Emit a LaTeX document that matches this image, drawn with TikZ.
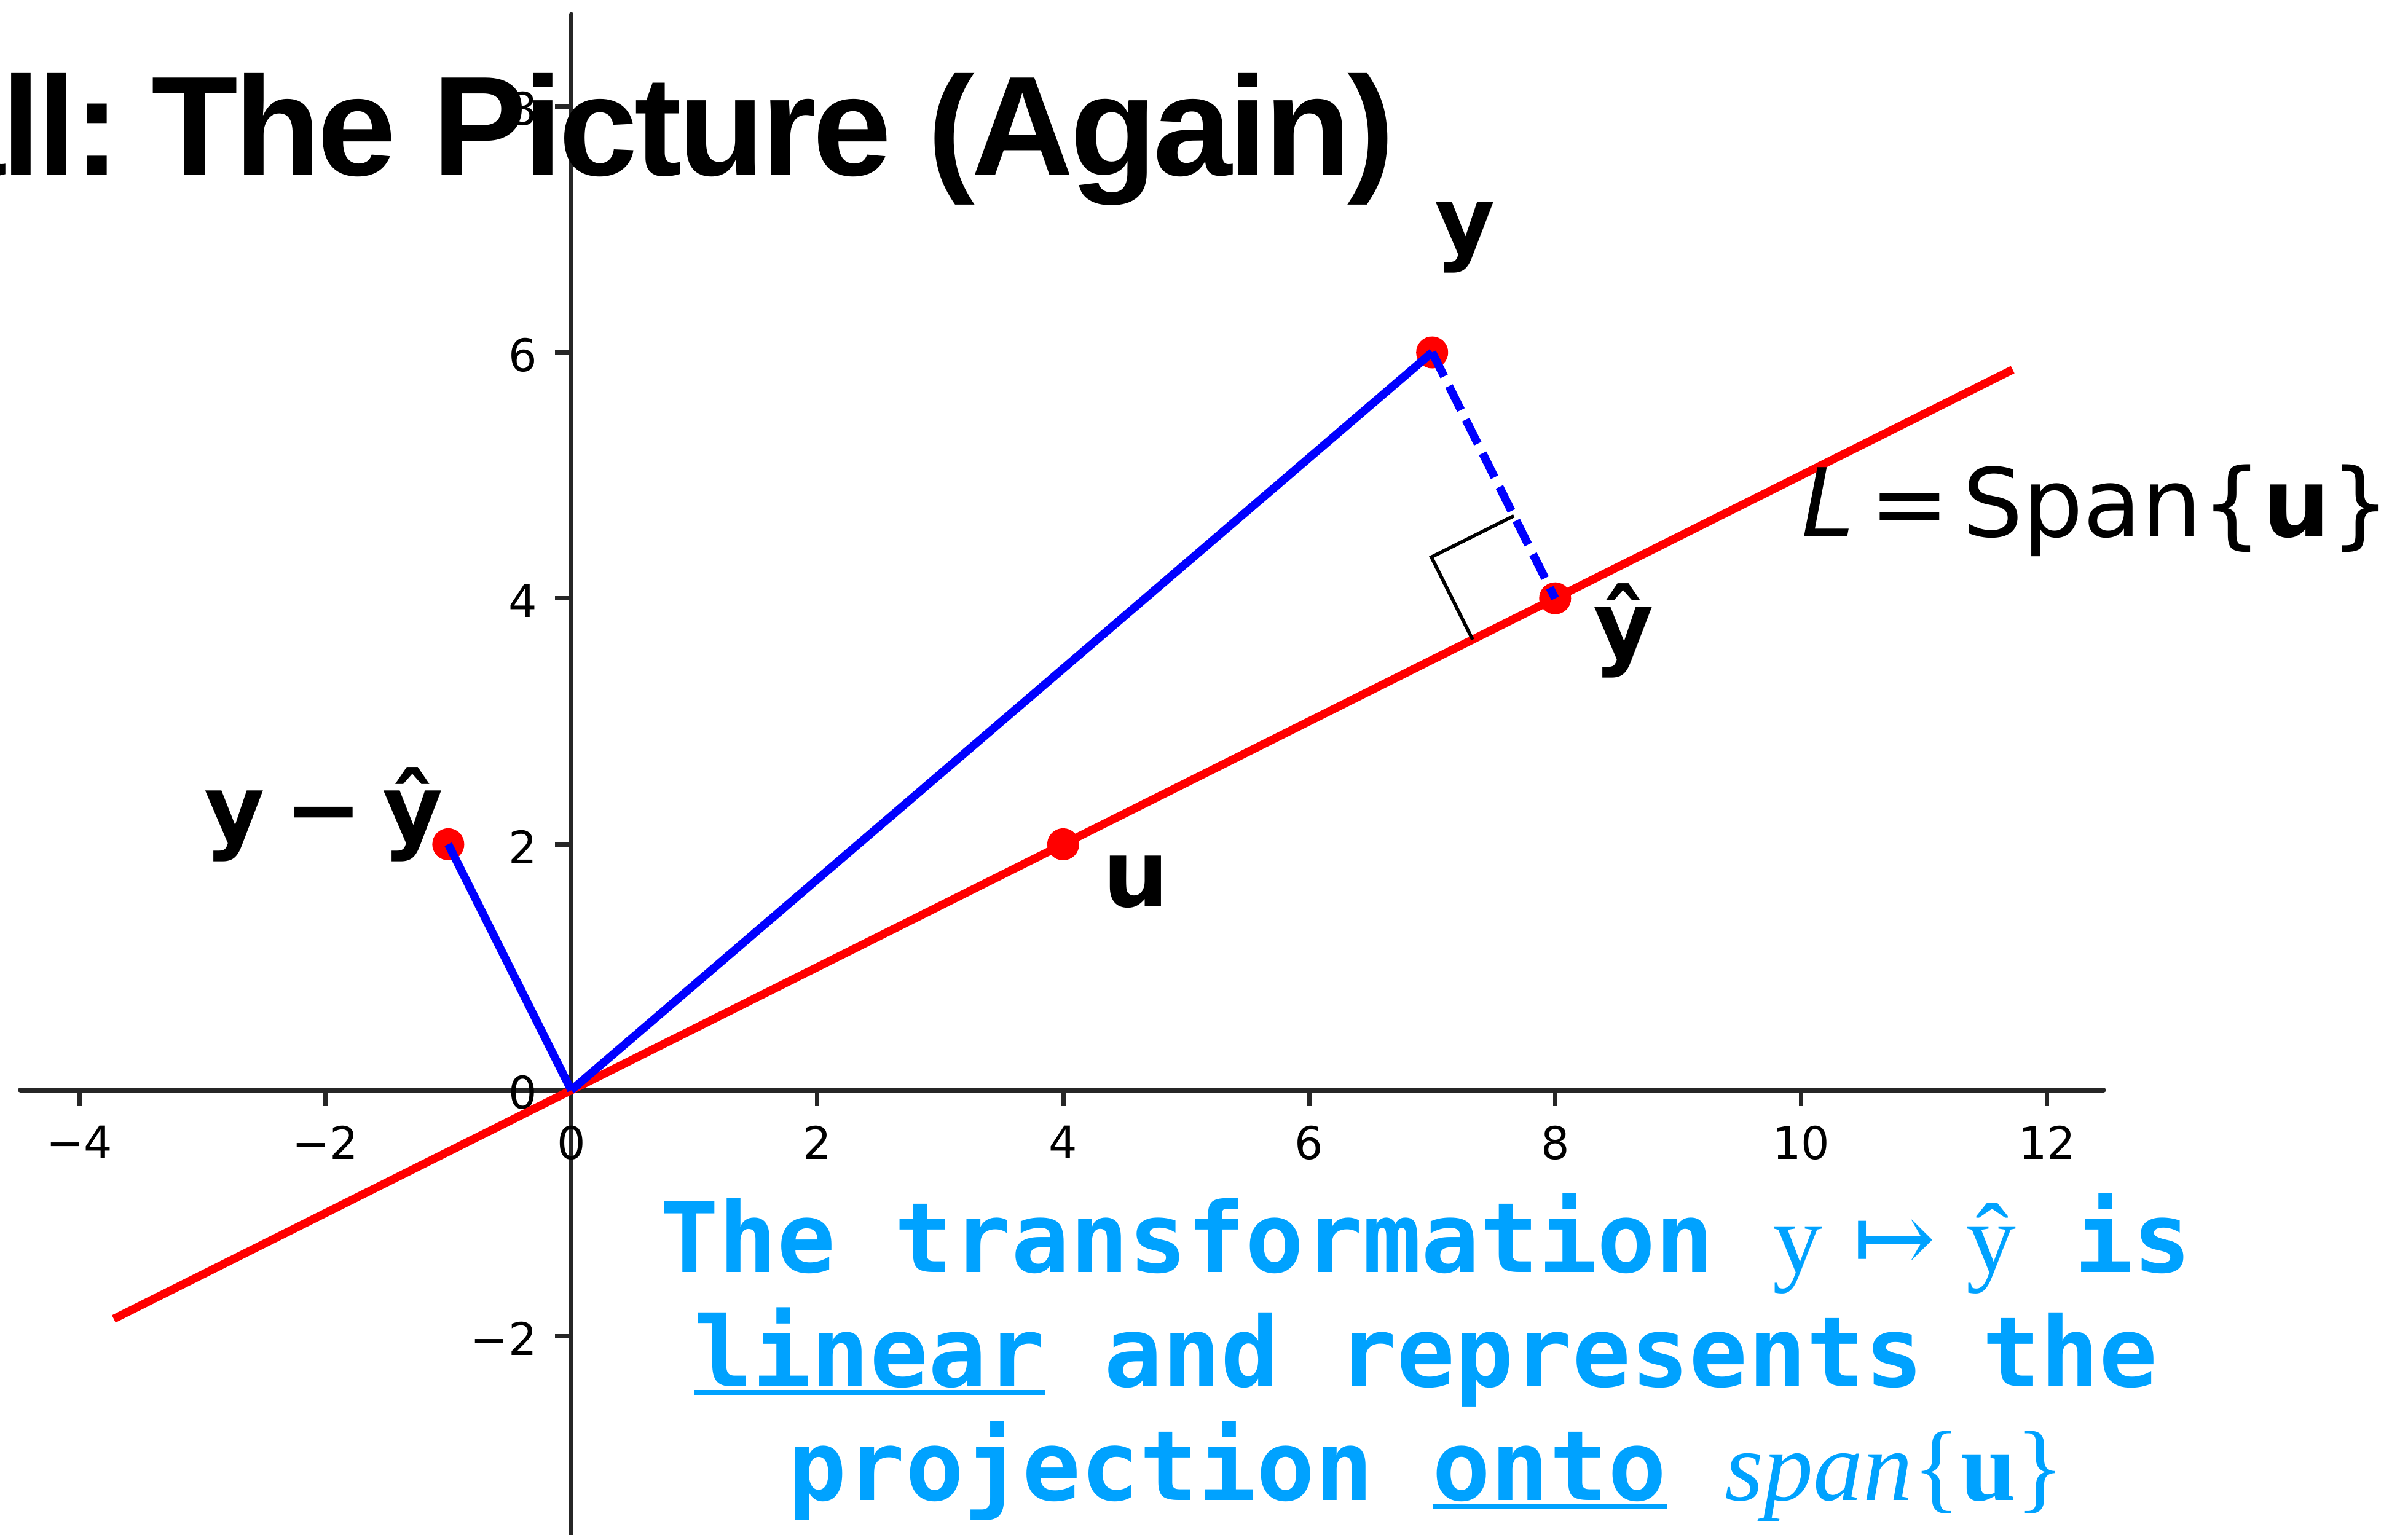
\documentclass[tikz,border=0pt]{standalone}
\usepackage{fontspec}
\setmainfont{DejaVu Sans}
\newfontfamily\titlefont{Liberation Sans}[LetterSpace=-2.5]
\newfontfamily\monofont{DejaVu Sans Mono}
\newfontfamily\lserif{Liberation Serif}
\newfontfamily\dserif{DejaVu Serif}
\definecolor{kblue}{HTML}{00A2FF}
\newcommand\ulin[1]{\setbox0=\hbox{#1}\rlap{\rule[-2pt]{\wd0}{1.1pt}}\box0\relax}
\begin{document}
\begin{tikzpicture}[x=1cm,y=1cm,
  axisline/.style={line width=1.05pt, black!85, line cap=round},
  tickline/.style={line width=1.05pt, black!85},
  redline/.style={line width=1.9pt, red},
  blueline/.style={line width=1.9pt, blue},
  dashline/.style={line width=1.9pt, blue, dash pattern=on 6.2pt off 2.5pt},
  rightang/.style={line width=0.8pt, black},
  dotmark/.style={circle, fill=red, inner sep=0pt, minimum size=0.26cm},
  ticklab/.style={font=\fontsize{10.4}{12}\selectfont, inner sep=0pt},
  ptlab/.style={font=\fontsize{21.5}{26}\selectfont\bfseries, inner sep=0pt},
  captext/.style={font=\monofont\bfseries\fontsize{22.5}{26.4}\selectfont, text=kblue, inner sep=0pt, anchor=base}]
\useasboundingbox (-4.645,-3.613) rectangle (14.935,8.866);

% axes
\coordinate (xl) at (-4.48,0);
\coordinate (xr) at (12.46,0);
\coordinate (yb) at (0,-3.75);
\coordinate (yt) at (0,8.75);
\draw[axisline] (xl) -- (xr);
\draw[axisline] (yb) -- (yt);
\foreach \x/\t in {-4/−4,-2/−2,0/0,2/2,4/4,6/6,8/8,10/10,12/12}{
  \draw[tickline] (\x,0) -- (\x,-0.13);
  \node[ticklab, anchor=north] (xt\x) at (\x,-0.284) {\t};
}
\foreach \y/\t in {-2/−2,0/0,2/2,4/4,6/6,8/8}{
  \draw[tickline] (0,\y) -- (-0.13,\y);
  \node[ticklab, anchor=east] (yt\y) at (-0.272,\y-0.02) {\t};
}

% title
\node[anchor=base west, inner sep=0pt, font=\titlefont\bfseries\fontsize{32.8}{36}\selectfont] (title) at (-3.42,7.441) {\llap{all:\hspace{0.22em}}The Picture (Again)};

% line L
\coordinate (Ls) at (-3.72,-1.86);
\coordinate (Le) at (11.72,5.86);
\draw[redline] (Ls) -- (Le);

% points
\coordinate (O) at (0,0);
\node[dotmark] (py) at (7,6) {};
\node[dotmark] (pyh) at (8,4) {};
\node[dotmark] (pu) at (4,2) {};
\node[dotmark] (pd) at (-1,2) {};

% vectors
\draw[blueline] (O) -- (py.center);
\draw[blueline] (O) -- (pd.center);
\draw[dashline] (py.center) -- (pyh.center);

% right angle marker
\coordinate (ra1) at (7.3292,3.6646);
\coordinate (ra2) at (6.9938,4.3354);
\coordinate (ra3) at (7.6646,4.6708);
\draw[rightang] (ra1) -- (ra2) -- (ra3);

% labels
\node[ptlab, anchor=base] (ly) at (7.27,6.81) {y};
\node[ptlab, anchor=base] (lyh) at (8.556,3.518) {ŷ};
\node[ptlab, anchor=base] (lu) at (4.59,1.49) {u};
\node[ptlab, anchor=base west] (lyd) at (-2.99,2.02) {y\hspace{4.6pt}−\hspace{4.6pt}ŷ};
\node[anchor=base west, inner sep=0pt, font=\fontsize{22}{27}\selectfont] (lL) at (10.0,4.503) {\itshape L\upshape\hspace{3.4pt}=\hspace{3.1pt}Span\{\bfseries u\mdseries\}};

% caption
\node[captext] (c1) at (6.95,-1.479) {The transformation {\lserif\mdseries\fontsize{23}{26}\selectfont y\hspace{7pt}{\dserif ↦}\hspace{7pt}ŷ} is};
\node[captext] (c2) at (6.95,-2.408) {\ulin{linear} and represents the};
\node[captext] (c3) at (6.95,-3.337) {projection \ulin{onto} {\lserif\mdseries\fontsize{23}{26}\selectfont\itshape span\upshape\{\bfseries u\mdseries\}}};
\end{tikzpicture}
\end{document}
